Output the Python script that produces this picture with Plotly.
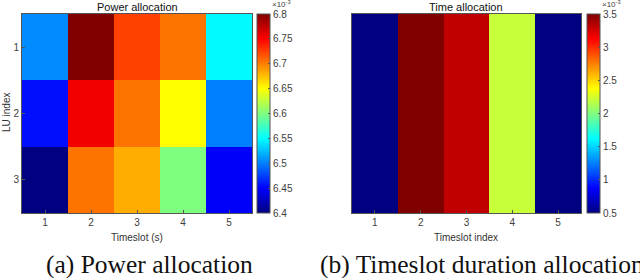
import plotly.graph_objects as go

# ---- data (values in units of 1e-3) ----
timeslots = [1, 2, 3, 4, 5]
lu_index = [1, 2, 3]
power_alloc = [
    [6.505, 6.800, 6.725, 6.705, 6.548],
    [6.455, 6.755, 6.705, 6.650, 6.500],
    [6.400, 6.705, 6.682, 6.600, 6.448],
]
time_alloc = [[0.5, 3.5, 3.31, 2.21, 0.5]]
power_cbar_ticks = [6.4, 6.45, 6.5, 6.55, 6.6, 6.65, 6.7, 6.75, 6.8]
time_cbar_ticks = [0.5, 1, 1.5, 2, 2.5, 3, 3.5]

jet = [
    [0.0, "rgb(0,0,128)"],
    [0.125, "rgb(0,0,255)"],
    [0.375, "rgb(0,255,255)"],
    [0.625, "rgb(255,255,0)"],
    [0.875, "rgb(255,0,0)"],
    [1.0, "rgb(128,0,0)"],
]

W, H = 640, 278
def px(x):
    return x / W
def py(y):
    return 1 - y / H

top, bot = 14, 213
tick_font = dict(family="Liberation Sans, Arial, sans-serif", size=10, color="#404040")
axcol = "#555555"

fig = go.Figure()
fig.add_trace(go.Heatmap(
    x=timeslots, y=lu_index, z=power_alloc, colorscale=jet, zmin=6.4, zmax=6.8,
    xaxis="x", yaxis="y",
    colorbar=dict(x=px(257), xanchor="left", y=py(top), yanchor="top",
                  len=(bot - top) / H, lenmode="fraction", thickness=13,
                  thicknessmode="pixels", outlinewidth=1, outlinecolor=axcol,
                  tickvals=power_cbar_ticks, ticktext=[f"{v:g}" for v in power_cbar_ticks],
                  ticks="inside", ticklen=2, tickcolor=axcol, tickfont=tick_font, xpad=0, ypad=0),
))
fig.add_trace(go.Heatmap(
    x=timeslots, y=[1], z=time_alloc, colorscale=jet, zmin=0.5, zmax=3.5,
    xaxis="x2", yaxis="y2",
    colorbar=dict(x=px(587), xanchor="left", y=py(top), yanchor="top",
                  len=(bot - top) / H, lenmode="fraction", thickness=13,
                  thicknessmode="pixels", outlinewidth=1, outlinecolor=axcol,
                  tickvals=time_cbar_ticks, ticktext=[f"{v:g}" for v in time_cbar_ticks],
                  ticks="inside", ticklen=2, tickcolor=axcol, tickfont=tick_font, xpad=0, ypad=0),
))

common_ax = dict(showline=True, linecolor=axcol, linewidth=1, mirror=True,
                 ticks="inside", ticklen=3, tickcolor=axcol, showgrid=False,
                 zeroline=False, tickfont=tick_font)

fig.update_layout(
    width=W, height=H, margin=dict(l=0, r=0, t=0, b=0),
    paper_bgcolor="white", plot_bgcolor="white", showlegend=False,
    xaxis=dict(domain=[px(22), px(252)], anchor="y", tickvals=timeslots,
               range=[0.5, 5.5], **common_ax),
    yaxis=dict(domain=[py(bot), py(top)], anchor="x", tickvals=lu_index,
               range=[3.5, 0.5], **common_ax),
    xaxis2=dict(domain=[px(352), px(581)], anchor="y2", tickvals=timeslots,
                range=[0.5, 5.5], **common_ax),
    yaxis2=dict(domain=[py(bot), py(top)], anchor="x2", range=[0.5, 1.5],
                showticklabels=False, **{k: v for k, v in common_ax.items() if k not in ("ticks",)}, ticks=""),
)

lab_font = dict(family="Liberation Sans, Arial, sans-serif", size=10, color="#333333")
title_font = dict(family="Liberation Sans, Arial, sans-serif", size=11, color="#111111")
cap_font = dict(family="Liberation Serif, Times New Roman, serif", size=25.5, color="#111111")
exp_font = dict(family="Liberation Sans, Arial, sans-serif", size=8, color="#404040")

ann = [
    dict(x=px(137), y=py(7), text="Power allocation", font=title_font),
    dict(x=px(466), y=py(7), text="Time allocation", font=title_font),
    dict(x=px(137), y=py(237), text="Timeslot (s)", font=lab_font),
    dict(x=px(466), y=py(237), text="Timeslot index", font=lab_font),
    dict(x=px(6), y=py(113), text="LU index", font=lab_font, textangle=-90),
    dict(x=px(270), y=py(4), text="×10<sup>-3</sup>", font=exp_font, xanchor="left"),
    dict(x=px(600), y=py(4), text="×10<sup>-3</sup>", font=exp_font, xanchor="left"),
    dict(x=px(44), y=py(264), text="(a) Power allocation", font=cap_font, xanchor="left"),
    dict(x=px(318), y=py(264), text="(b) Timeslot duration allocation", font=cap_font, xanchor="left"),
]
for a in ann:
    a.setdefault("xanchor", "center")
    a.update(xref="paper", yref="paper", showarrow=False, yanchor="middle")
    fig.add_annotation(**a)

fig.write_html("out.html", config={"displayModeBar": False},
               post_script="document.body.style.margin='0';document.body.style.padding='0';")
